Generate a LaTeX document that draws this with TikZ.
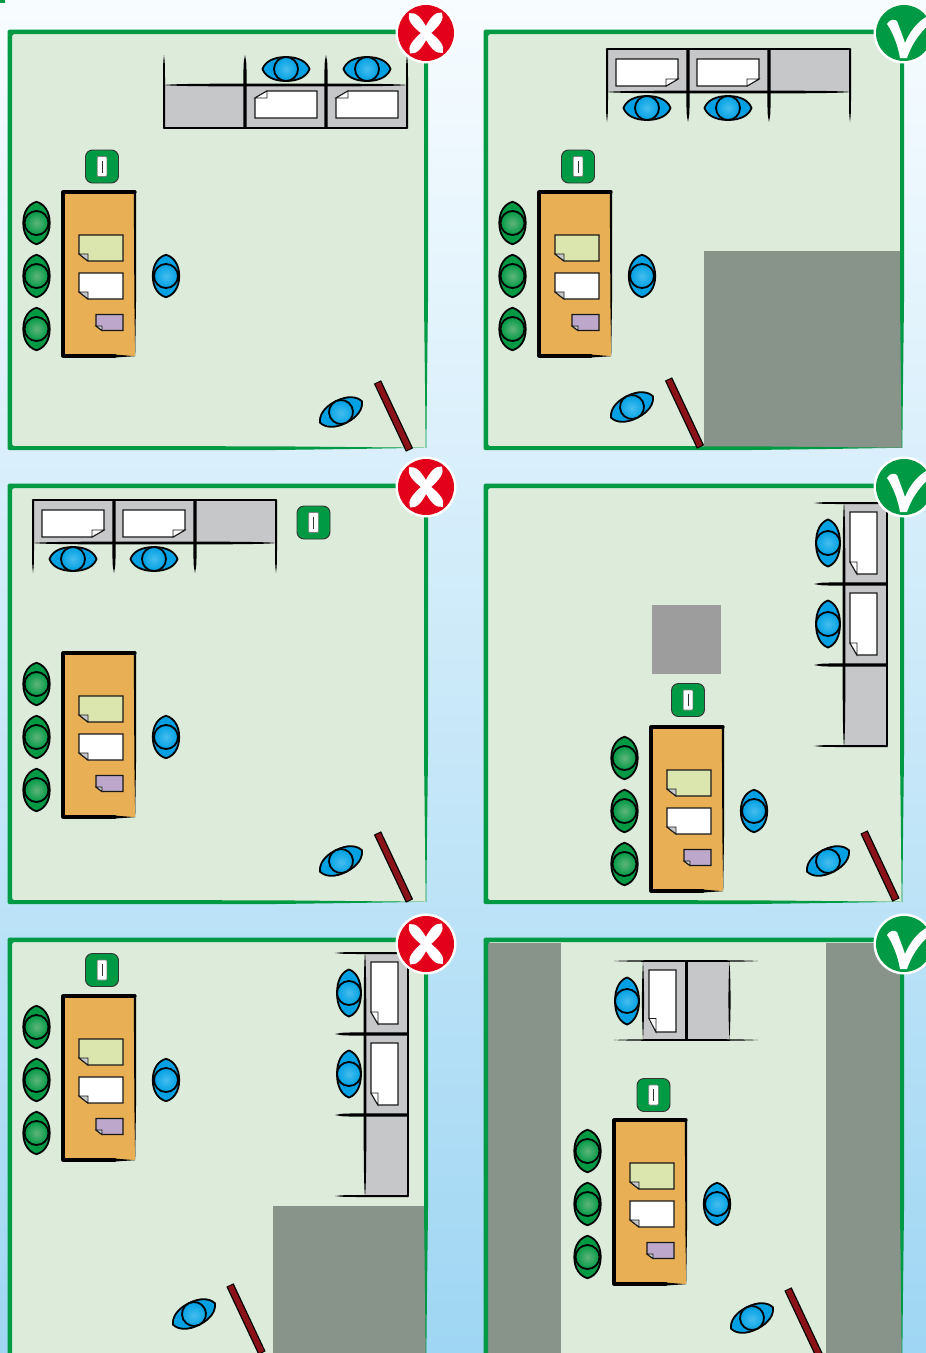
\documentclass[tikz,border=0pt]{standalone}
\definecolor{bgTop}{HTML}{F7FCFF}
\definecolor{bgMid}{HTML}{D0E9F9}
\definecolor{bgBot}{HTML}{9FD6F3}
\definecolor{room}{HTML}{DCEBDA}
\definecolor{gr}{HTML}{009A44}
\definecolor{grlight}{HTML}{5FB47C}
\definecolor{bl}{HTML}{00A0E3}
\definecolor{bllight}{HTML}{45BDEE}
\definecolor{desk}{HTML}{E8AF55}
\definecolor{cab}{HTML}{C6C7C9}
\definecolor{block}{HTML}{88938A}
\definecolor{blockb}{HTML}{9D9D9D}
\definecolor{doorc}{HTML}{8B1218}
\definecolor{nored}{HTML}{E2001A}
\definecolor{pgreen}{HTML}{DBE6AE}
\definecolor{ppurple}{HTML}{BDA7CB}
\tikzset{
  ink/.style={line width=1.8pt,draw=black},
  sheet/.style={line width=1.3pt,draw=black!90},
  flap/.style={line width=0.9pt,draw=black!90,fill=cab}
}
\newcommand{\seat}[8]{% x y angle lens inner outer halflength halfwidth
  \begin{scope}[shift={(#1,#2)},rotate=#3]
    \filldraw[ink,fill=#4] (-#7,0) .. controls (-0.9*#7,-0.58*#8) and (-0.55*#7,-#8) .. (0,-#8) .. controls (0.55*#7,-#8) and (0.9*#7,-0.58*#8) .. (#7,0) .. controls (0.9*#7,0.58*#8) and (0.55*#7,#8) .. (0,#8) .. controls (-0.55*#7,#8) and (-0.9*#7,0.58*#8) .. (-#7,0) -- cycle;
    \shade[inner color=#5,outer color=#6] (0,0) circle (12);
    \draw[ink] (0,0) circle (12);
  \end{scope}}
\newcommand{\blueseat}[3]{\seat{#1}{#2}{#3}{bl}{bllight}{bl}{23.5}{12}}
\newcommand{\blueseatwide}[3]{\seat{#1}{#2}{#3}{bl}{bllight}{bl}{21.2}{13.2}}
\newcommand{\greenseat}[2]{\seat{#1}{#2}{90}{gr}{grlight}{gr}{21.2}{13.2}}
\newcommand{\deskgroup}[2]{%
  \begin{scope}[shift={(#1,#2)}]
    \fill[desk] (0,0) rectangle (72,164);
    \draw[line width=3.2pt,line cap=round,line join=round] (72,0) -- (0,0) -- (0,164) -- (52,164);
    \fill (70.8,0) -- (73.2,0) -- (73,110) -- (72.2,164) -- (71.4,110) -- cycle;
    \fill (50,162.4) -- (72,164.2) -- (50,165.6) -- cycle;
    \fill[sheet,fill=pgreen] (16,43) -- (60,43) -- (60,69) -- (25,69) -- (16,62) -- cycle;
    \filldraw[flap] (16,62) -- (25,62) -- (25,69) -- cycle;
    \fill[sheet,fill=white] (16,81) -- (60,81) -- (60,107) -- (25,107) -- (16,100) -- cycle;
    \filldraw[flap] (16,100) -- (25,100) -- (25,107) -- cycle;
    \fill[sheet,fill=ppurple] (33,122.5) -- (60,122.5) -- (60,138.5) -- (39,138.5) -- (33,134) -- cycle;
    \filldraw[flap] (33,134) -- (39,134) -- (39,138.5) -- cycle;
    \greenseat{-26.5}{31}
    \greenseat{-26.5}{84}
    \greenseat{-26.5}{137}
    \blueseatwide{103}{84}{90}
  \end{scope}}
\newcommand{\iconpad}[2]{%
  \begin{scope}[shift={(#1,#2)}]
    \filldraw[fill=gr,draw=black!80,line width=0.9pt,rounded corners=7pt] (-16.5,-16.5) rectangle (16.5,16.5);
    \filldraw[fill=white,draw=black!50,line width=0.6pt,rounded corners=1pt] (-4.8,-10) rectangle (4.8,10);
    \draw[line width=1pt,draw=black!80] (0,-6) -- (0,6);
  \end{scope}}
\newcommand{\topsheet}[1]{%
  \fill[sheet,fill=white] (#1+12,6) -- (#1+62,6) -- (#1+62,33) -- (#1,33) -- (#1,13) -- cycle;
  \filldraw[line width=0.9pt,draw=black!90,fill=white] (#1,13) -- (#1+12,13) -- (#1+12,6) -- cycle;}
\newcommand{\cabpost}[2]{% x, half width
  \fill (#1,-30) .. controls (#1-0.75*#2,-25) .. (#1-#2,-8) -- (#1-#2,43) -- (#1+#2,43) -- (#1+#2,-8) .. controls (#1+0.75*#2,-25) .. (#1,-30) -- cycle;}
\newcommand{\cabinet}[3]{% origin x, y, rotation
  \begin{scope}[shift={(#1,#2)},rotate=#3]
    \fill[cab] (0,0) rectangle (243,43);
    \cabpost{0}{1}
    \cabpost{81}{1.7}
    \cabpost{162}{1.7}
    \cabpost{243}{1}
    \fill (0,0) .. controls (10,-1.4) and (60,-1.4) .. (121.5,-1.4) .. controls (180,-1.4) and (232,-1.4) .. (243,0) .. controls (232,1.4) and (180,1.4) .. (121.5,1.4) .. controls (60,1.4) and (10,1.4) .. (0,0) -- cycle;
    \draw[line width=2.6pt,line cap=round] (0,43) -- (243,43);
    \topsheet{91}
    \topsheet{172}
    \blueseat{122}{-16}{0}
    \blueseat{203}{-16}{0}
  \end{scope}}
\newcommand{\panelbox}[4]{%
  \fill[room] (#1,#2) rectangle (#3,#4);}
\newcommand{\panelframe}[4]{%
  \fill[gr,rounded corners=1.5pt] (#1-2.3,#2+70) -- (#1-2.3,#2-2.5) -- (#3+2,#2-2.5) -- (#3+2,#2+2.2) -- (#1+2.2,#2+2.2) -- (#1+2.2,#4-2) -- (#1+10,#4-2) -- (#3-150,#4-1.7) .. controls (#3-60,#4-0.8) .. (#3,#4-0.3) .. controls (#3-60,#4+0.8) .. (#3-150,#4+2) -- (#1+10,#4+2.2) -- (#1-2.3,#4+2.2) -- cycle;
  \fill[gr] (#3-2,#2-2) -- (#3+2,#2-2) -- (#3+2,#2+270) .. controls (#3+1,#2+350) .. (#3+0.3,#4) -- (#3-0.3,#4) .. controls (#3-1,#2+350) .. (#3-2,#2+270) -- cycle;}
\newcommand{\doorbar}[2]{%
  \draw[line width=8pt] (#1,#2) -- (#1+32,#2+68);
  \draw[line width=5.4pt,doorc] (#1+0.4,#2+0.9) -- (#1+31.6,#2+67.1);}
\newcommand{\stroke}[1]{%
  \fill[white,rotate=#1] (-26,0) .. controls (-22,-6) and (-16,-6.5) .. (0,-3.5) .. controls (16,-6.5) and (22,-6) .. (26,0) .. controls (22,6) and (16,6.5) .. (0,3.5) .. controls (-16,6.5) and (-22,6) .. (-26,0) -- cycle;}
\newcommand{\badgeNo}[2]{%
  \begin{scope}[shift={(#1,#2)}]
    \fill[white] (0,0) circle (30.5);
    \fill[nored] (0,0) circle (28);
    \stroke{-50}
    \stroke{52}
  \end{scope}}
\newcommand{\badgeYes}[2]{%
  \begin{scope}[shift={(#1,#2)}]
    \fill[white] (0,0) circle (30.5);
    \fill[gr] (0,0) circle (28);
    \fill[white] (-17,-9) .. controls (-14,-14) and (-10,-14) .. (-7,-12) .. controls (-4,-4) and (-1,4) .. (1,10) .. controls (6,-2) and (14,-12) .. (24,-17) -- (30,-12) .. controls (18,-4) and (8,10) .. (3,25) -- (-4,25) .. controls (-6,12) and (-12,-2) .. (-17,-9) -- cycle;
  \end{scope}}
\begin{document}
\begin{tikzpicture}[x=1pt,y=-1pt]
\useasboundingbox (0,0) rectangle (926,1353);
\clip (0,0) rectangle (926,1353);
\shade[top color=bgTop,middle color=bgMid,bottom color=bgBot] (0,0) rectangle (926,1353);
\fill[gr] (0,0) rectangle (5,3);
% rooms
\panelbox{10}{32}{426}{448}
\panelbox{486}{32}{902}{448}
\panelbox{10}{486}{426}{902}
\panelbox{486}{486}{902}{902}
\panelbox{10}{940}{426}{1357}
\panelbox{486}{940}{902}{1357}
% fixed blocks
\fill[block] (704,251) rectangle (902,448);
\fill[blockb] (652,605) rectangle (721,674);
\fill[block] (273,1206) rectangle (426,1357);
\fill[block] (487,943) rectangle (561,1357);
\fill[block] (826,943) rectangle (902,1357);
% frames
\panelframe{10}{32}{426}{448}
\panelframe{486}{32}{902}{448}
\panelframe{10}{486}{426}{902}
\panelframe{486}{486}{902}{902}
\panelframe{10}{940}{426}{1357}
\panelframe{486}{940}{902}{1357}
% desks
\deskgroup{63}{192}
\iconpad{102}{166.5}
\deskgroup{539}{192}
\iconpad{578}{166.5}
\deskgroup{63}{653}
\iconpad{313.5}{522.5}
\deskgroup{651}{727}
\iconpad{688}{700}
\deskgroup{63}{996}
\iconpad{102}{970}
\deskgroup{614}{1120}
\iconpad{653.5}{1095}
% cabinets
\cabinet{164}{85}{0}
\cabinet{850}{92}{180}
\cabinet{276}{543}{180}
\cabinet{844}{746}{90}
\cabinet{365}{1196}{90}
% double cabinet in room 6
\fill[cab] (643,961) rectangle (729,1040);
\fill (614,961) .. controls (630,959.7) and (740,959.7) .. (758,961) .. controls (740,962.3) and (630,962.3) .. (614,961) -- cycle;
\fill (614,1040) .. controls (630,1038.7) and (740,1038.7) .. (758,1040) .. controls (740,1041.3) and (630,1041.3) .. (614,1040) -- cycle;
\fill (643,961) .. controls (641.6,985) and (641.6,1015) .. (643,1040) .. controls (644.4,1015) and (644.4,985) .. (643,961) -- cycle;
\fill (729.5,961) .. controls (728.1,985) and (728.1,1015) .. (729.5,1040) .. controls (730.9,1015) and (730.9,985) .. (729.5,961) -- cycle;
\draw[line width=2.6pt] (686.5,961) -- (686.5,1040);
\fill[sheet,fill=white] (649,970) -- (676,970) -- (676,1032) -- (656,1032) -- (649,1018) -- cycle;
\filldraw[line width=0.9pt,draw=black!90,fill=white] (649,1018.5) -- (656,1018.5) -- (656,1032) -- cycle;
\blueseat{627}{1001}{90}
% doors and greeters
\doorbar{377.5}{382}
\doorbar{668.5}{379}
\doorbar{377.5}{833}
\doorbar{864}{832}
\doorbar{230}{1285}
\doorbar{788}{1289}
\blueseat{341}{412}{27}
\blueseat{632}{407}{27}
\blueseat{341}{861}{27}
\blueseat{828}{861}{27}
\blueseat{194}{1314}{27}
\blueseat{752}{1318}{27}
% badges
\badgeNo{426}{33}
\badgeYes{904}{33}
\badgeNo{426}{487}
\badgeYes{904}{487}
\badgeNo{426}{944}
\badgeYes{904}{944}
\end{tikzpicture}
\end{document}
